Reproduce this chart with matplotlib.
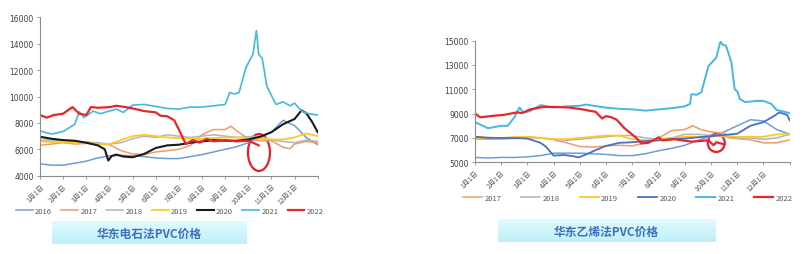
import numpy as np
import matplotlib.pyplot as plt
from matplotlib.patches import Ellipse

plt.rcParams['font.family'] = ['Noto Sans CJK SC', 'DejaVu Sans']

# 月份刻度（x 轴以月为单位，0 = 1月1日）
month_labels = ['1月1日', '2月1日', '3月1日', '4月1日', '5月1日', '6月1日',
                '7月1日', '8月1日', '9月1日', '10月1日', '11月1日', '12月1日']
half = np.linspace(0, 12, 25)  # 半月采样

'''左图：华东电石法PVC价格'''
l2016 = [4900, 4800, 4800, 4950, 5100, 5350, 5500, 5550, 5500, 5450, 5350, 5300, 5300,
         5450, 5600, 5800, 6000, 6200, 6500, 6900, 7300, 8200, 7800, 6900, 6350]
l2017_x = [0, 0.5, 1, 1.5, 2, 2.5, 3, 3.5, 4, 4.5, 5, 5.5, 6, 6.5, 7, 7.5, 8, 8.25, 8.5,
           9, 9.5, 10, 10.5, 10.8, 11, 11.5, 12]
l2017 = [6300, 6400, 6500, 6400, 6450, 6400, 6350, 5900, 5650, 5600, 5800, 5900, 6000,
         6300, 7100, 7500, 7500, 7750, 7400, 6800, 6650, 6650, 6150, 6050, 6400, 6600, 6500]
l2018 = [6700, 6700, 6650, 6600, 6550, 6500, 6400, 6500, 6800, 7000, 6900, 7100, 7000,
         6900, 7000, 7100, 7000, 6900, 6950, 7000, 6700, 6600, 6500, 6700, 6600]
l2019 = [6600, 6550, 6550, 6500, 6500, 6400, 6400, 6700, 7000, 7100, 7000, 6900, 6850,
         6800, 6800, 6850, 6900, 6900, 6850, 6800, 6750, 6750, 6900, 7200, 7000]
l2020_x = [0, 0.5, 1, 1.5, 2, 2.5, 2.8, 2.95, 3.1, 3.3, 3.6, 4, 4.5, 5, 5.5, 6, 6.5, 7,
           7.5, 8, 8.5, 9, 9.5, 10, 10.5, 11, 11.3, 11.5, 11.75, 12]
l2020 = [6950, 6800, 6700, 6650, 6500, 6300, 6000, 5150, 5500, 5600, 5450, 5400, 5650,
         6100, 6300, 6350, 6500, 6600, 6700, 6650, 6650, 6750, 6950, 7300, 7900, 8300,
         8950, 8750, 8100, 7300]
l2021_x = [0, 0.5, 1, 1.5, 1.7, 1.9, 2.3, 2.6, 3, 3.3, 3.6, 4, 4.5, 5, 5.5, 6, 6.5, 7,
           7.5, 8, 8.2, 8.4, 8.6, 8.9, 9.2, 9.35, 9.45, 9.6, 9.8, 10.05, 10.2, 10.5, 10.8,
           11, 11.3, 11.6, 12]
l2021 = [7400, 7150, 7350, 7900, 8850, 8400, 8900, 8700, 8900, 9050, 8800, 9350, 9400,
         9250, 9100, 9050, 9200, 9200, 9300, 9400, 10300, 10200, 10300, 12200, 13200,
         15000, 13200, 12900, 10800, 9900, 9400, 9600, 9300, 9500, 8900, 8700, 8600]
l2022_x = [0, 0.3, 0.6, 1, 1.4, 1.7, 2, 2.2, 2.5, 3, 3.3, 3.7, 4, 4.5, 5, 5.2, 5.5, 5.8,
           6.0, 6.3, 6.6, 6.9, 7.2, 7.5, 8, 8.5, 9, 9.2, 9.45]
l2022 = [8600, 8400, 8600, 8700, 9200, 8700, 8600, 9200, 9150, 9200, 9300, 9200, 9100,
         8900, 8800, 8550, 8500, 8200, 7500, 6400, 6700, 6500, 6800, 6600, 6700, 6600,
         6650, 6500, 6300]

'''右图：华东乙烯法PVC价格'''
r2016 = [5400, 5350, 5400, 5400, 5450, 5550, 5750, 5750, 5750, 5700, 5650, 5550, 5550,
         5700, 5950, 6150, 6400, 6800, 7150, 7500, 8000, 8500, 8400, 7700, 7300]
r2017_x = [0, 0.5, 1, 1.5, 2, 2.5, 3, 3.5, 4, 4.5, 5, 5.5, 6, 6.5, 7, 7.5, 8, 8.3, 8.6,
           9, 9.5, 9.7, 10, 10.5, 11, 11.5, 12]
r2017 = [7100, 7050, 7000, 7050, 7100, 7000, 6850, 6600, 6300, 6250, 6350, 6400, 6350,
         6600, 7000, 7600, 7700, 8000, 7700, 7500, 7400, 7000, 6950, 6850, 6600, 6600, 6850]
r2018 = [6900, 6900, 6900, 6950, 7000, 7000, 6900, 6800, 6900, 7000, 7100, 7200, 7200,
         7000, 6900, 7000, 7300, 7300, 7200, 7100, 7000, 7000, 6900, 7000, 7300]
r2019 = [7000, 7000, 7000, 7050, 7100, 7000, 6900, 6900, 7000, 7100, 7200, 7200, 6900,
         6800, 6900, 7000, 7100, 7100, 7100, 7200, 7100, 7100, 7100, 7300, 7300]
r2020_x = [0, 0.5, 1, 1.5, 2, 2.5, 2.7, 3.0, 3.4, 3.75, 3.95, 4.3, 4.6, 5, 5.5, 6, 6.5,
           7, 7.5, 8, 8.5, 9, 9.5, 10, 10.5, 11, 11.4, 11.6, 11.9, 12]
r2020 = [7100, 7000, 7000, 7000, 6950, 6600, 6300, 5550, 5600, 5500, 5400, 5700, 6000,
         6350, 6600, 6650, 6750, 6800, 6900, 6950, 7050, 7150, 7250, 7350, 8000, 8300,
         8800, 9100, 8900, 8450]
r2021_x = [0, 0.5, 1, 1.25, 1.5, 1.7, 1.85, 2.1, 2.5, 3, 3.5, 4, 4.25, 4.5, 5, 5.5, 6,
           6.5, 7, 7.5, 8, 8.2, 8.25, 8.45, 8.63, 8.9, 9.2, 9.36, 9.45, 9.57, 9.78, 9.9,
           10.0, 10.1, 10.3, 10.75, 11.0, 11.3, 11.5, 11.9, 12]
r2021 = [8300, 7800, 8000, 8000, 8700, 9500, 9100, 9200, 9700, 9500, 9600, 9650, 9750,
         9650, 9500, 9400, 9350, 9250, 9350, 9450, 9600, 9800, 10600, 10550, 10750, 12900,
         13600, 14950, 14650, 14600, 13200, 11000, 10850, 10200, 9950, 10050, 10050, 9800,
         9300, 9100, 9050]
r2022_x = [0, 0.2, 0.6, 1.1, 1.6, 1.8, 2.1, 2.6, 3.1, 3.6, 4.1, 4.6, 4.85, 5.0, 5.2, 5.4,
           5.7, 5.96, 6.2, 6.35, 6.6, 6.8, 7.0, 7.15, 7.6, 8.25, 8.9, 9.1, 9.2, 9.46]
r2022 = [9000, 8700, 8800, 8900, 9100, 9050, 9350, 9550, 9550, 9500, 9350, 9150, 8600,
         8800, 8700, 8500, 7800, 7350, 6900, 6550, 6600, 6800, 7050, 6800, 6900, 6700,
         6800, 6400, 6650, 6500]

c16, c17, c18, c19 = '#6A9FD8', '#F0996A', '#B4B4B4', '#FFC726'
c21, c22 = '#45B8E2', '#E8252B'

fig = plt.figure(figsize=(8.05, 2.55), dpi=100)


def style_axes(ax, yticks):
    for s in ['top', 'right']:
        ax.spines[s].set_visible(False)
    for s in ['left', 'bottom']:
        ax.spines[s].set_color('#8C8C8C')
        ax.spines[s].set_linewidth(0.8)
    ax.set_xlim(0, 12)
    ax.set_xticks(range(13))
    ax.set_xticklabels(month_labels + [''], rotation=45, ha='right',
                       rotation_mode='anchor', fontsize=5, color='#595959')
    ax.set_yticks(yticks)
    ax.set_yticklabels([str(v) for v in yticks], fontsize=5.5, color='#404040',
                       family='DejaVu Sans')
    ax.tick_params(axis='both', length=2.5, width=0.6, color='#8C8C8C', pad=2)
    ax.set_ylim(yticks[0], yticks[-1])


# 左图
ax1 = fig.add_axes([0.0497, 0.307, 0.345, 0.621])
ax1.plot(half, l2016, color=c16, lw=1.1, label='2016')
ax1.plot(l2017_x, l2017, color=c17, lw=1.1, label='2017')
ax1.plot(half, l2018, color=c18, lw=1.1, label='2018')
ax1.plot(half, l2019, color=c19, lw=1.3, label='2019')
ax1.plot(l2020_x, l2020, color='#1A1A1A', lw=1.5, label='2020')
ax1.plot(l2021_x, l2021, color=c21, lw=1.2, label='2021')
ax1.plot(l2022_x, l2022, color=c22, lw=1.6, label='2022')
ax1.add_patch(Ellipse((9.46, 5760), 0.95, 2800, fill=False, ec='#E8202A', lw=1.6))
style_axes(ax1, [4000, 6000, 8000, 10000, 12000, 14000, 16000])
ax1.legend(loc='center', bbox_to_anchor=(0.211, 0.169), bbox_transform=fig.transFigure,
           ncol=7, frameon=False, fontsize=5.5, handlelength=2.2, handletextpad=0.3,
           columnspacing=1.2, labelcolor='#595959')

# 右图
ax2 = fig.add_axes([0.590, 0.3596, 0.391, 0.477])
ax2.plot(half, r2016, color=c16, lw=1.1)
ax2.plot(r2017_x, r2017, color=c17, lw=1.1, label='2017')
ax2.plot(half, r2018, color=c18, lw=1.1, label='2018')
ax2.plot(half, r2019, color=c19, lw=1.3, label='2019')
ax2.plot(r2020_x, r2020, color='#4A6FC4', lw=1.3, label='2020')
ax2.plot(r2021_x, r2021, color=c21, lw=1.4, label='2021')
ax2.plot(r2022_x, r2022, color=c22, lw=1.6, label='2022')
ax2.add_patch(Ellipse((9.2, 6590), 0.65, 1480, fill=False, ec='#E8202A', lw=1.6))
style_axes(ax2, [5000, 7000, 9000, 11000, 13000, 15000])
ax2.legend(loc='center', bbox_to_anchor=(0.78, 0.22), bbox_transform=fig.transFigure,
           ncol=6, frameon=False, fontsize=5.5, handlelength=2.5, handletextpad=0.3,
           columnspacing=2.6, labelcolor='#595959')

# 标题框（浅青色渐变）
grad = np.linspace(0, 1, 50).reshape(-1, 1)
for (x0, y0, w, h, txt) in [(52, 222, 194, 23, '华东电石法PVC价格'),
                            (498, 220, 217, 23, '华东乙烯法PVC价格')]:
    bax = fig.add_axes([x0 / 805, 1 - (y0 + h) / 255, w / 805, h / 255])
    bax.imshow(grad, aspect='auto', cmap=plt.matplotlib.colors.LinearSegmentedColormap
               .from_list('g', ['#E2FBFE', '#BDF0F8']), extent=[0, 1, 0, 1])
    bax.set_axis_off()
    bax.text(0.5, 0.48, txt, ha='center', va='center', fontsize=8.5, weight='bold',
             color='#3E6FBF')

plt.savefig('out.png', dpi=100)
